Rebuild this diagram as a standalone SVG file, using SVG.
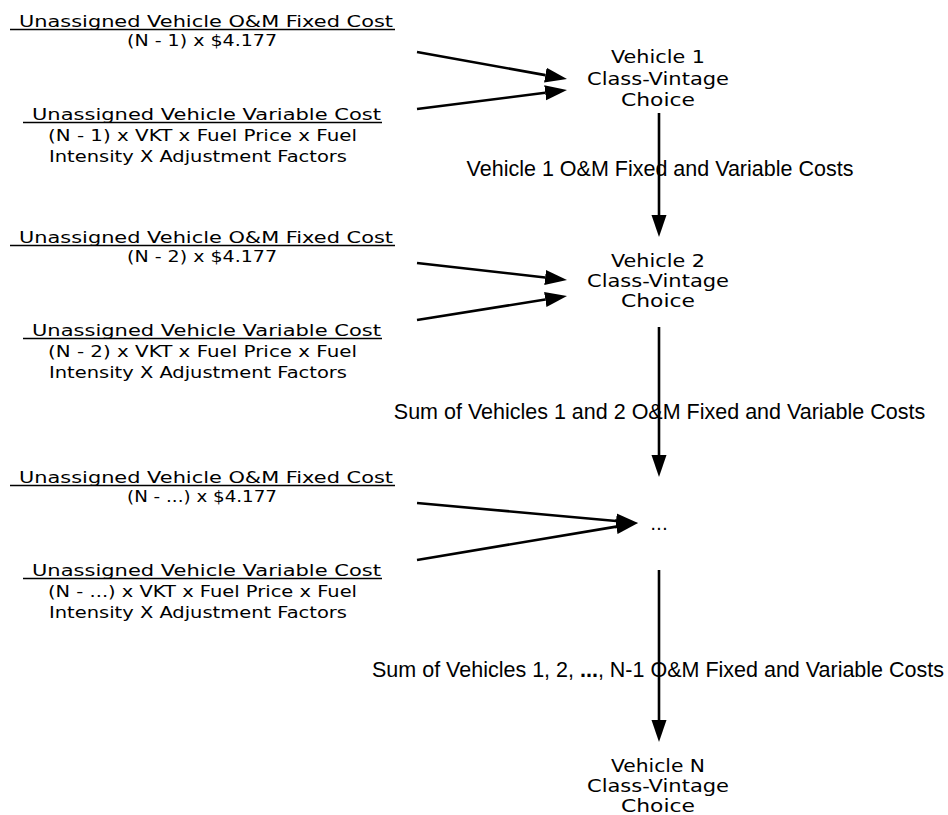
<svg xmlns="http://www.w3.org/2000/svg" width="948" height="815" viewBox="0 0 948 815">
<style>
.g{font-family:"DejaVu Sans","Liberation Sans",sans-serif;font-size:16.5px;fill:#000;text-anchor:middle}
.v{font-family:"DejaVu Sans","Liberation Sans",sans-serif;font-size:18.5px;fill:#000;text-anchor:middle}
.a{font-family:"Liberation Sans",Arial,sans-serif;font-size:21.5px;fill:#000;text-anchor:middle}
.u{stroke:#000;stroke-width:1.5}
.c{stroke:#000;stroke-width:2.6;fill:none;marker-end:url(#ah)}
</style>
<defs>
<marker id="ah" markerUnits="userSpaceOnUse" markerWidth="22" markerHeight="16" refX="0" refY="7.5" orient="auto" viewBox="0 0 22 15">
<path d="M0,0 L22,7.5 L0,15 Z" fill="#000"/>
</marker>
</defs>
<rect width="948" height="815" fill="#fff"/>
<g id="fixed1">
<text class="g" x="206" y="27" textLength="374" lengthAdjust="spacingAndGlyphs">Unassigned Vehicle O&amp;M Fixed Cost</text>
<line class="u" x1="10" y1="29.5" x2="395" y2="29.5"/>
<text class="g" x="202" y="46" textLength="150" lengthAdjust="spacingAndGlyphs">(N - 1) x $4.177</text>
</g>
<g id="var1">
<text class="g" x="206.5" y="120" textLength="349" lengthAdjust="spacingAndGlyphs">Unassigned Vehicle Variable Cost</text>
<line class="u" x1="23" y1="122.5" x2="382" y2="122.5"/>
<text class="g" x="202.5" y="141" textLength="309" lengthAdjust="spacingAndGlyphs">(N - 1) x VKT x Fuel Price x Fuel</text>
<text class="g" x="198" y="162" textLength="298" lengthAdjust="spacingAndGlyphs">Intensity X Adjustment Factors</text>
</g>
<g id="fixed2">
<text class="g" x="206" y="243" textLength="374" lengthAdjust="spacingAndGlyphs">Unassigned Vehicle O&amp;M Fixed Cost</text>
<line class="u" x1="10" y1="245.5" x2="395" y2="245.5"/>
<text class="g" x="202" y="262" textLength="150" lengthAdjust="spacingAndGlyphs">(N - 2) x $4.177</text>
</g>
<g id="var2">
<text class="g" x="206.5" y="336" textLength="349" lengthAdjust="spacingAndGlyphs">Unassigned Vehicle Variable Cost</text>
<line class="u" x1="23" y1="338.5" x2="382" y2="338.5"/>
<text class="g" x="202.5" y="357" textLength="309" lengthAdjust="spacingAndGlyphs">(N - 2) x VKT x Fuel Price x Fuel</text>
<text class="g" x="198" y="378" textLength="298" lengthAdjust="spacingAndGlyphs">Intensity X Adjustment Factors</text>
</g>
<g id="fixed3">
<text class="g" x="206" y="483" textLength="374" lengthAdjust="spacingAndGlyphs">Unassigned Vehicle O&amp;M Fixed Cost</text>
<line class="u" x1="10" y1="485.5" x2="395" y2="485.5"/>
<text class="g" x="202" y="502" textLength="150" lengthAdjust="spacingAndGlyphs">(N - ...) x $4.177</text>
</g>
<g id="var3">
<text class="g" x="206.5" y="576" textLength="349" lengthAdjust="spacingAndGlyphs">Unassigned Vehicle Variable Cost</text>
<line class="u" x1="23" y1="578.5" x2="382" y2="578.5"/>
<text class="g" x="202.5" y="597" textLength="309" lengthAdjust="spacingAndGlyphs">(N - ...) x VKT x Fuel Price x Fuel</text>
<text class="g" x="198" y="618" textLength="298" lengthAdjust="spacingAndGlyphs">Intensity X Adjustment Factors</text>
</g>
<g id="vehicle1">
<text class="v" x="658" y="63" textLength="94" lengthAdjust="spacingAndGlyphs">Vehicle 1</text>
<text class="v" x="658" y="85" textLength="142" lengthAdjust="spacingAndGlyphs">Class-Vintage</text>
<text class="v" x="658" y="106" textLength="74" lengthAdjust="spacingAndGlyphs">Choice</text>
</g>
<g id="vehicle2">
<text class="v" x="658" y="267" textLength="94" lengthAdjust="spacingAndGlyphs">Vehicle 2</text>
<text class="v" x="658" y="287" textLength="142" lengthAdjust="spacingAndGlyphs">Class-Vintage</text>
<text class="v" x="658" y="307" textLength="74" lengthAdjust="spacingAndGlyphs">Choice</text>
</g>
<g id="ellipsis">
<text class="v" x="659" y="530">...</text>
</g>
<g id="vehicleN">
<text class="v" x="658" y="772" textLength="94" lengthAdjust="spacingAndGlyphs">Vehicle N</text>
<text class="v" x="658" y="792" textLength="142" lengthAdjust="spacingAndGlyphs">Class-Vintage</text>
<text class="v" x="658" y="812" textLength="74" lengthAdjust="spacingAndGlyphs">Choice</text>
</g>
<g id="connectors">
<line class="c" x1="417" y1="52" x2="545.35" y2="75.1"/>
<line class="c" x1="417" y1="109" x2="545.18" y2="92.77"/>
<line class="c" x1="417" y1="263" x2="545.14" y2="277.52"/>
<line class="c" x1="417" y1="320" x2="545.28" y2="299.48"/>
<line class="c" x1="417" y1="503" x2="616.09" y2="521.02"/>
<line class="c" x1="417" y1="560" x2="616.3" y2="526.63"/>
<line class="c" x1="659" y1="113" x2="659" y2="215"/>
<line class="c" x1="659" y1="327" x2="659" y2="455"/>
<line class="c" x1="659" y1="570" x2="659" y2="720"/>
<text class="a" x="660" y="176">Vehicle 1 O&amp;M Fixed and Variable Costs</text>
<text class="a" x="659.5" y="419">Sum of Vehicles 1 and 2 O&amp;M Fixed and Variable Costs</text>
<text class="a" x="658" y="677">Sum of Vehicles 1, 2, <tspan font-weight="bold">...</tspan>, N-1 O&amp;M Fixed and Variable Costs</text>
</g>
</svg>
